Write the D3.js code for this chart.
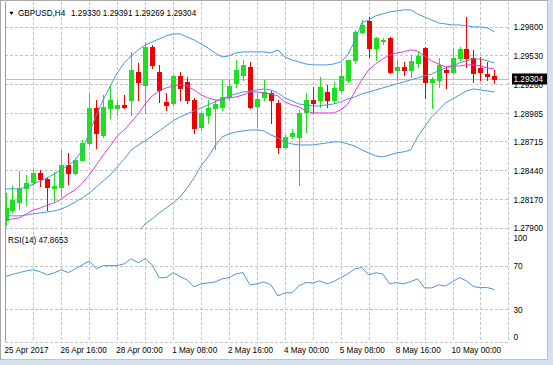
<!DOCTYPE html>
<html><head><meta charset="utf-8">
<script src="https://cdn.jsdelivr.net/npm/d3@7"></script>
<style>
html,body{margin:0;padding:0;background:#fff;overflow:hidden;}
svg{display:block;font-family:"Liberation Sans",Arial,sans-serif;}
</style></head><body>
<svg id="c" width="553" height="365"></svg>
<script>
const symbol = "GBPUSD,H4";
const lastOHLC = "1.29330 1.29391 1.29269 1.29304";
const lastPrice = 1.29304;
const rsiLabel = "RSI(14) 47.8653";
const timeLabels = ["25 Apr 2017","26 Apr 16:00","28 Apr 00:00","1 May 08:00","2 May 16:00","4 May 00:00","5 May 08:00","8 May 16:00","10 May 00:00"];
const priceTicks = [1.29800,1.29530,1.29260,1.28985,1.28715,1.28440,1.28170,1.27900];
const rsiTicks = [100,70,30,0];

const open = [1.27972,1.28066,1.28141,1.28273,1.28330,1.28416,1.28359,1.28273,1.28283,1.28491,
1.28416,1.28538,1.28699,1.29030,1.28775,1.29030,1.29030,1.29059,1.29106,1.29371,
1.29248,1.29607,1.29371,1.29087,1.29078,1.29333,1.29276,1.29106,1.28851,1.28964,
1.29030,1.29040,1.29134,1.29267,1.29342,1.29418,1.29049,1.29134,1.29172,1.29078,
1.28661,1.28765,1.28756,1.28992,1.29106,1.29106,1.29181,1.29106,1.29200,1.29295,
1.29484,1.29749,1.29853,1.29597,1.29664,1.29692,1.29390,1.29418,1.29390,1.29456,
1.29597,1.29276,1.29295,1.29390,1.29371,1.29503,1.29588,1.29503,1.29408,1.29352,
1.29330];
const high = [1.28226,1.28292,1.28435,1.28397,1.28444,1.28444,1.28378,1.28425,1.28633,1.28604,
1.28557,1.28727,1.29172,1.29106,1.29153,1.29238,1.29106,1.29153,1.29560,1.29456,
1.29654,1.29626,1.29437,1.29172,1.29342,1.29371,1.29323,1.29125,1.29002,1.29106,
1.29106,1.29295,1.29295,1.29484,1.29484,1.29465,1.29172,1.29295,1.29191,1.29106,
1.28775,1.28832,1.29011,1.29172,1.29229,1.29323,1.29248,1.29276,1.29437,1.29484,
1.29768,1.29862,1.29890,1.29701,1.29692,1.29701,1.29484,1.29465,1.29531,1.29560,
1.29607,1.29323,1.29503,1.29418,1.29597,1.29607,1.29890,1.29579,1.29512,1.29465,
1.29391];
const low = [1.27925,1.28047,1.28075,1.28113,1.28302,1.28292,1.28066,1.28151,1.28198,1.28311,
1.28406,1.28538,1.28680,1.28651,1.28756,1.28936,1.28964,1.29030,1.28964,1.29106,
1.28983,1.29408,1.29087,1.29011,1.29059,1.29106,1.29078,1.28794,1.28822,1.28889,
1.28642,1.29011,1.29106,1.29229,1.29295,1.29030,1.28851,1.29106,1.28889,1.28605,
1.28651,1.28746,1.28302,1.28803,1.28983,1.29040,1.29040,1.29078,1.29181,1.29276,
1.29456,1.29739,1.29512,1.29484,1.29635,1.29361,1.29295,1.29342,1.29323,1.29418,
1.29125,1.29030,1.29229,1.29219,1.29361,1.29484,1.29418,1.29276,1.29295,1.29295,
1.29269];
const close = [1.28084,1.28161,1.28273,1.28321,1.28416,1.28359,1.28283,1.28292,1.28491,1.28416,
1.28538,1.28699,1.29030,1.28794,1.29040,1.29106,1.29059,1.29040,1.29390,1.29276,
1.29607,1.29437,1.29200,1.29059,1.29333,1.29219,1.29106,1.28841,1.28983,1.29030,
1.29068,1.29134,1.29238,1.29390,1.29437,1.29040,1.29115,1.29181,1.29106,1.28661,
1.28756,1.28794,1.28983,1.29106,1.29078,1.29229,1.29106,1.29219,1.29333,1.29484,
1.29749,1.29815,1.29597,1.29692,1.29673,1.29371,1.29418,1.29390,1.29475,1.29522,
1.29276,1.29304,1.29437,1.29371,1.29503,1.29588,1.29503,1.29361,1.29371,1.29333,
1.29304];

const bbUpper = [1.28265,1.28265,1.28265,1.28283,1.28311,1.28341,1.28369,1.28407,1.28444,1.28491,
1.28539,1.28633,1.28794,1.28964,1.29106,1.29238,1.29361,1.29456,1.29522,1.29579,
1.29626,1.29654,1.29682,1.29711,1.29730,1.29730,1.29701,1.29673,1.29635,1.29597,
1.29550,1.29512,1.29522,1.29550,1.29560,1.29560,1.29560,1.29560,1.29550,1.29579,
1.29512,1.29484,1.29465,1.29446,1.29437,1.29437,1.29437,1.29446,1.29465,1.29531,
1.29664,1.29834,1.29862,1.29900,1.29919,1.29938,1.29947,1.29957,1.29957,1.29919,
1.29890,1.29862,1.29834,1.29824,1.29815,1.29815,1.29805,1.29796,1.29796,1.29786,
1.29749];
const bbMiddle = [1.28010,1.28010,1.28010,1.28019,1.28029,1.28038,1.28047,1.28057,1.28075,1.28103,
1.28141,1.28180,1.28226,1.28283,1.28341,1.28397,1.28473,1.28548,1.28633,1.28680,
1.28719,1.28765,1.28813,1.28860,1.28908,1.28945,1.28974,1.29002,1.29030,1.29059,
1.29087,1.29115,1.29144,1.29163,1.29181,1.29191,1.29200,1.29210,1.29200,1.29172,
1.29125,1.29097,1.29068,1.29059,1.29049,1.29049,1.29059,1.29068,1.29087,1.29115,
1.29134,1.29163,1.29181,1.29200,1.29219,1.29238,1.29257,1.29276,1.29295,1.29314,
1.29333,1.29352,1.29380,1.29408,1.29427,1.29456,1.29475,1.29493,1.29493,1.29475,
1.29456];
const bbLower = [1.27755,1.27755,1.27755,1.27755,1.27745,1.27736,1.27726,1.27707,1.27707,1.27717,
1.27745,1.27726,1.27660,1.27603,1.27575,1.27556,1.27585,1.27641,1.27783,1.27859,
1.27934,1.27981,1.28038,1.28084,1.28133,1.28189,1.28274,1.28369,1.28482,1.28567,
1.28671,1.28756,1.28785,1.28803,1.28813,1.28822,1.28822,1.28813,1.28775,1.28746,
1.28709,1.28690,1.28680,1.28680,1.28680,1.28690,1.28699,1.28709,1.28709,1.28690,
1.28671,1.28633,1.28605,1.28577,1.28567,1.28586,1.28605,1.28615,1.28633,1.28756,
1.28851,1.28945,1.29011,1.29078,1.29115,1.29153,1.29191,1.29210,1.29200,1.29191,
1.29181];
const ma = [1.27972,1.27981,1.27991,1.28029,1.28066,1.28084,1.28113,1.28133,1.28170,1.28218,
1.28256,1.28321,1.28397,1.28491,1.28586,1.28671,1.28765,1.28822,1.28898,1.28974,
1.29068,1.29144,1.29191,1.29219,1.29238,1.29248,1.29238,1.29200,1.29153,1.29125,
1.29106,1.29106,1.29125,1.29134,1.29153,1.29181,1.29181,1.29172,1.29163,1.29144,
1.29087,1.29059,1.29040,1.29002,1.28983,1.28983,1.28983,1.28983,1.29011,1.29068,
1.29181,1.29295,1.29390,1.29446,1.29493,1.29531,1.29550,1.29560,1.29579,1.29569,
1.29522,1.29475,1.29446,1.29418,1.29427,1.29427,1.29437,1.29437,1.29427,1.29408,
1.29399];
const rsi = [59.8,61.9,63.5,65.1,66.0,64.2,61.4,63.3,66.0,63.5,
67.0,70.6,74.3,67.0,70.0,70.0,70.0,71.6,76.2,72.5,
76.2,70.6,58.9,58.9,63.5,59.8,56.8,50.3,53.1,54.0,
54.9,57.7,58.9,62.3,63.5,52.2,53.1,54.9,52.2,42.0,
44.8,44.8,51.2,54.3,54.0,55.9,53.1,55.2,58.9,62.3,
67.0,68.2,61.4,63.3,62.3,53.1,54.3,53.1,55.2,57.7,
49.4,49.4,52.2,51.2,55.2,58.9,55.9,50.6,49.7,49.7,
47.8653];

const svg = d3.select("#c");
const W = 553, H = 365;
const plotL = 5, plotR = 508.4, mainT = 2, mainB = 229.5, rsiT = 232, rsiB = 341.5;
const x = d3.scaleLinear().domain([0, 72]).range([5.5, plotR]);
const y = d3.scaleLinear().domain([1.27900, 1.29800]).range([227.5, 26.5]);
const yR = d3.scaleLinear().domain([0, 100]).range([rsiB, 233]);
const FS = "8.2px";
const gridCol = "#c4c4c4", blue = "#4b95dc", magenta = "#e03ce0", green = "#1ee01e", red = "#f00000";
const px = v => Math.round(v) + 0.5;

svg.append("rect").attr("width", W).attr("height", H).attr("fill", "#fff");

const defs = svg.append("defs");
defs.append("clipPath").attr("id", "cm").append("rect")
  .attr("x", plotL).attr("y", mainT).attr("width", plotR - plotL).attr("height", mainB - mainT);
defs.append("clipPath").attr("id", "cr").append("rect")
  .attr("x", plotL).attr("y", rsiT).attr("width", plotR - plotL).attr("height", rsiB - rsiT);

// vertical grid every 4 bars
const vg = svg.append("g").attr("stroke", gridCol).attr("stroke-dasharray", "3,2");
d3.range(4, 73, 4).forEach(i => {
  vg.append("line").attr("x1", px(x(i))).attr("x2", px(x(i))).attr("y1", mainT).attr("y2", rsiB);
});
// horizontal grid main
priceTicks.forEach(p => {
  vg.append("line").attr("x1", plotL).attr("x2", plotR).attr("y1", px(y(p))).attr("y2", px(y(p)));
});
// horizontal grid rsi
[70, 30, 0].forEach(v => {
  vg.append("line").attr("x1", plotL).attr("x2", plotR).attr("y1", px(yR(v))).attr("y2", px(yR(v)));
});

// left border
svg.append("line").attr("x1", 5.5).attr("x2", 5.5).attr("y1", mainT).attr("y2", rsiB)
  .attr("stroke", "#9a9a9a");

// current price line
svg.append("line").attr("x1", plotL).attr("x2", plotR)
  .attr("y1", px(y(lastPrice))).attr("y2", px(y(lastPrice)))
  .attr("stroke", "#c0c0c0").attr("stroke-width", 1.2);

// candles
const cg = svg.append("g").attr("clip-path", "url(#cm)").attr("shape-rendering", "crispEdges");
open.forEach((o, i) => {
  const c = close[i];
  const col = c >= o ? green : red;
  const cx = Math.round(x(i));
  cg.append("line").attr("x1", cx + 0.5).attr("x2", cx + 0.5)
    .attr("y1", Math.round(y(high[i]))).attr("y2", Math.round(y(low[i])) + 1)
    .attr("stroke", col);
  const yt = Math.round(y(Math.max(o, c))), yb = Math.round(y(Math.min(o, c)));
  cg.append("rect").attr("x", cx - 2).attr("width", 5)
    .attr("y", yt).attr("height", Math.max(1, yb - yt + 1)).attr("fill", col);
});

// indicator lines
const lineP = d3.line().x((d, i) => x(i)).y(d => y(d));
const lg = svg.append("g").attr("clip-path", "url(#cm)").attr("fill", "none");
[bbUpper, bbMiddle, bbLower].forEach(arr => {
  lg.append("path").attr("d", lineP(arr)).attr("stroke", blue).attr("stroke-width", 1);
});
lg.append("path").attr("d", lineP(ma)).attr("stroke", magenta).attr("stroke-width", 1);

// RSI line
const lineR = d3.line().x((d, i) => x(i)).y(d => yR(d));
svg.append("g").attr("clip-path", "url(#cr)").append("path")
  .attr("d", lineR(rsi)).attr("fill", "none").attr("stroke", blue).attr("stroke-width", 1);

// price axis labels
const pa = svg.append("g").attr("transform", `translate(${plotR},0.8)`)
  .call(d3.axisRight(y).tickValues(priceTicks).tickSize(0).tickPadding(5).tickFormat(d3.format(".5f")));
pa.select(".domain").remove();
pa.selectAll("text").attr("font-size", FS).attr("font-family", "Liberation Sans, Arial, sans-serif").attr("fill", "#000");

// last price box
const ly = y(lastPrice);
svg.append("rect").attr("x", 512).attr("y", Math.round(ly) - 5.5).attr("width", 35.5).attr("height", 11).attr("fill", "#000");
svg.append("text").attr("x", 513.5).attr("y", ly).attr("dy", "0.34em")
  .attr("font-size", FS).attr("fill", "#fff").text(d3.format(".5f")(lastPrice));

// RSI axis labels
const ra = svg.append("g").attr("transform", `translate(${plotR},0)`)
  .call(d3.axisRight(yR).tickValues(rsiTicks).tickSize(0).tickPadding(5).tickFormat(d3.format("d")));
ra.select(".domain").remove();
ra.selectAll("text").attr("font-size", FS).attr("font-family", "Liberation Sans, Arial, sans-serif").attr("fill", "#000")
  .attr("y", d => d === 100 ? 5 : (d === 0 ? -4.5 : 0.5));

// time axis
const tx = svg.append("g").attr("transform", `translate(0,344.5)`)
  .call(d3.axisBottom(x).tickValues(d3.range(0, 65, 8)).tickSize(0).tickPadding(3)
    .tickFormat(i => timeLabels[i / 8]));
tx.select(".domain").remove();
tx.selectAll("text").attr("font-size", FS).attr("font-family", "Liberation Sans, Arial, sans-serif")
  .attr("fill", "#000").attr("text-anchor", "start").attr("dx", -1.5);

// title
svg.append("path").attr("d", "M9.3,11.7 L13.6,11.7 L11.45,15 Z").attr("fill", "#000");
svg.append("text").attr("x", 18).attr("y", 16).attr("font-size", FS).attr("fill", "#000").text(symbol);
svg.append("text").attr("x", 71).attr("y", 16).attr("font-size", FS).attr("fill", "#000").text(lastOHLC);
svg.append("text").attr("x", 8).attr("y", 242.5).attr("font-size", FS).attr("fill", "#000").text(rsiLabel);

// window frame
svg.append("rect").attr("x", 548).attr("y", 0).attr("width", 5).attr("height", H).attr("fill", "#d3e0f0");
svg.append("rect").attr("x", 0).attr("y", 360).attr("width", W).attr("height", 5).attr("fill", "#d3e0f0");
svg.append("line").attr("x1", 547.5).attr("x2", 547.5).attr("y1", 0).attr("y2", 360).attr("stroke", "#b4c6dc");
svg.append("line").attr("x1", 0).attr("x2", 548).attr("y1", 359.5).attr("y2", 359.5).attr("stroke", "#b4c6dc");
svg.append("line").attr("x1", 0.5).attr("x2", 0.5).attr("y1", 0).attr("y2", 360).attr("stroke", "#a8a8a8");
svg.append("line").attr("x1", 0).attr("x2", 548).attr("y1", 0.5).attr("y2", 0.5).attr("stroke", "#a8a8a8");
</script>
</body></html>
